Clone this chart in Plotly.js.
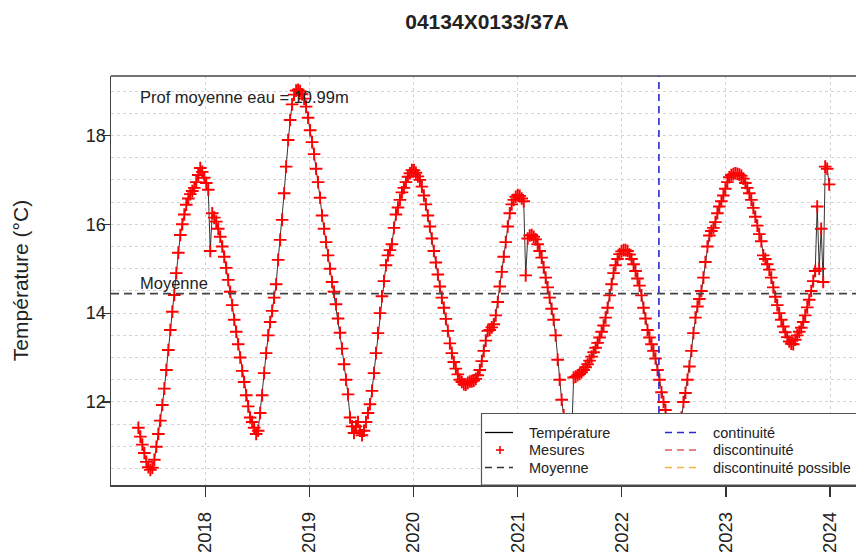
<!DOCTYPE html>
<html><head><meta charset="utf-8">
<script src="https://cdn.plot.ly/plotly-3.0.1.min.js"></script>
<style>html,body{margin:0;padding:0;background:#fff;overflow:hidden}</style>
</head><body><div id="chart" style="width:856px;height:560px"></div>
<script>
// ---- data ----
const stationTitle = '04134X0133/37A';
const profText = 'Prof moyenne eau = 10.99m';
const yTitle = 'Température (°C)';
const startDate = '2017-05-12';   // first measurement, then weekly
const stepDays = 7;
const t2017 = [11.42, 11.22, 11.04, 10.85, 10.65, 10.53, 10.47, 10.52, 10.70, 10.99,
  11.28, 11.58, 11.93, 12.30, 12.72, 13.17, 13.62, 14.03, 14.41, 14.90,
  15.36, 15.76, 16.00, 16.22, 16.44, 16.58, 16.68, 16.75, 16.82, 16.95,
  17.11, 17.27, 17.18, 17.05];
const t2018 = [16.93, 16.78, 15.40, 16.25, 16.15, 16.06, 15.90, 15.72, 15.50, 15.27,
  15.02, 14.75, 14.48, 14.18, 13.85, 13.58, 13.30, 13.00, 12.70, 12.45,
  12.15, 11.90, 11.65, 11.55, 11.42, 11.28, 11.35, 11.75, 12.15, 12.65,
  13.10, 13.50, 13.80, 14.05, 14.35, 14.65, 15.20, 15.65, 16.10, 16.70,
  17.30, 17.90, 18.35, 18.70, 18.92, 19.01, 19.03, 19.00, 18.93, 18.83,
  18.65, 18.40];
const t2019 = [18.12, 17.85, 17.58, 17.25, 16.95, 16.60, 16.20, 15.90, 15.60, 15.30,
  15.00, 14.70, 14.48, 14.20, 13.88, 13.56, 13.20, 12.85, 12.50, 12.17,
  11.65, 11.45, 11.30, 11.45, 11.55, 11.35, 11.25, 11.35, 11.55, 11.75,
  11.95, 12.25, 12.65, 13.10, 13.55, 14.00, 14.38, 14.72, 15.08, 15.30,
  15.42, 15.55, 15.92, 16.22, 16.38, 16.55, 16.72, 16.82, 16.95, 17.07,
  17.15, 17.22];
const t2020 = [17.22, 17.16, 17.08, 17.00, 16.85, 16.65, 16.45, 16.20, 15.95, 15.68,
  15.40, 15.14, 14.87, 14.60, 14.35, 14.12, 13.87, 13.60, 13.32, 13.10,
  12.90, 12.75, 12.62, 12.50, 12.45, 12.40, 12.39, 12.43, 12.46, 12.46,
  12.48, 12.52, 12.60, 12.72, 12.92, 13.15, 13.38, 13.60, 13.62, 13.68,
  13.75, 13.95, 14.25, 14.60, 14.93, 15.27, 15.60, 15.95, 16.25, 16.45,
  16.55, 16.62];
const t2021 = [16.66, 16.64, 16.58, 16.52, 14.85, 15.68, 15.75, 15.76, 15.72, 15.66,
  15.55, 15.40, 15.25, 15.03, 14.80, 14.58, 14.35, 14.10, 13.85, 13.50,
  12.95, 12.50, 12.05, 11.70, 11.35, 11.10, 11.05, 11.20, 12.55, 12.57,
  12.60, 12.63, 12.67, 12.72, 12.78, 12.85, 12.93, 13.02, 13.12, 13.22,
  13.33, 13.45, 13.58, 13.72, 13.90, 14.12, 14.40, 14.65, 14.90, 15.08,
  15.22, 15.33, 15.39];
const t2022 = [15.42, 15.42, 15.40, 15.32, 15.22, 15.10, 14.95, 14.78, 14.62, 14.40,
  14.12, 13.88, 13.62, 13.45, 13.30, 13.15, 12.98, 12.72, 12.50, 12.22,
  12.00, 11.82, 11.60, 11.30, 11.10, 10.95, 10.95, 11.10, 11.35, 11.65,
  12.00, 12.20, 12.50, 12.80, 13.15, 13.55, 13.90, 14.15, 14.32, 14.50,
  14.80, 15.15, 15.50, 15.75, 15.85, 15.92, 16.05, 16.25, 16.40, 16.52,
  16.65, 16.80];
const t2023 = [16.95, 17.06, 17.11, 17.13, 17.15, 17.14, 17.12, 17.09, 17.03, 16.93,
  16.82, 16.70, 16.55, 16.37, 16.17, 15.97, 15.78, 15.62, 15.30, 15.22,
  15.10, 14.98, 14.80, 14.58, 14.37, 14.18, 14.00, 13.85, 13.70, 13.57,
  13.46, 13.36, 13.31, 13.30, 13.40, 13.50, 13.58, 13.67, 13.80, 13.95,
  14.13, 14.30, 14.50, 14.72, 14.95, 16.40, 15.00, 15.90, 14.70, 17.30,
  17.25, 16.90];
const meanTemp = 14.44;
const continuityDate = '2022-05-11';
const xTickYears = ['2018', '2019', '2020', '2021', '2022', '2023', '2024'];
const yTickVals = [12, 14, 16, 18];
const legendLabels = ['Température', 'Mesures', 'Moyenne', 'continuité', 'discontinuité', 'discontinuité possible'];

// ---- build ----
const temps = [].concat(t2017, t2018, t2019, t2020, t2021, t2022, t2023);
const t0 = Date.parse(startDate + 'T00:00:00Z');
const dates = temps.map((_, i) => new Date(t0 + i * stepDays * 86400000).toISOString().slice(0, 10));

const FONT = 'Liberation Sans, Arial, Helvetica, sans-serif';
const L = 111, R = 856, T = 76, B = 485;
const px = x => (x - L) / (R - L);
const py = y => (B - y) / (B - T);

const traces = [
  {type: 'scatter', mode: 'lines', x: dates, y: temps, name: 'Température',
   line: {color: '#000', width: 0.8}, hoverinfo: 'skip', showlegend: false},
  {type: 'scatter', mode: 'markers', x: dates, y: temps, name: 'Mesures',
   marker: {symbol: 'cross-thin', size: 9, color: '#ff0000', line: {color: '#ff0000', width: 1.9}},
   showlegend: false}
];

const shapes = [
  // top border of the box
  {type: 'line', xref: 'paper', yref: 'paper', x0: 0, x1: 1.02, y0: 1, y1: 1, line: {color: '#444', width: 1.5}},
  // mean line
  {type: 'line', xref: 'paper', yref: 'y', x0: 0, x1: 1, y0: meanTemp, y1: meanTemp,
   line: {color: '#444', width: 1.6, dash: '8px,5px'}},
  // continuity
  {type: 'line', xref: 'x', yref: 'paper', x0: continuityDate, x1: continuityDate, y0: 0, y1: 1,
   line: {color: '#2a2ad0', width: 1.6, dash: '7px,5px'}},
  // legend box
  {type: 'rect', xref: 'paper', yref: 'paper', x0: px(481.5), x1: 1.02, y0: 0, y1: py(413.5),
   fillcolor: '#fff', line: {color: '#555', width: 1.2}}
];
const annotations = [
  {xref: 'paper', yref: 'paper', x: px(138), y: py(97), xanchor: 'left', yanchor: 'middle',
   text: profText, showarrow: false, font: {size: 16.5, color: '#222', family: FONT}},
  {xref: 'paper', yref: 'y', x: px(138), y: meanTemp, xanchor: 'left', yanchor: 'bottom', yshift: 0,
   text: 'Moyenne', showarrow: false, font: {size: 16.5, color: '#222', family: FONT}}
];
// manual legend (two columns)
const rows = [432.5, 450, 467.5];
const col1 = {x0: 485, x1: 513, tx: 526.5};
const col2 = {x0: 665, x1: 698, tx: 710.5};
shapes.push({type: 'line', xref: 'paper', yref: 'paper', x0: px(col1.x0), x1: px(col1.x1), y0: py(rows[0]), y1: py(rows[0]), line: {color: '#000', width: 1.3}});
shapes.push({type: 'line', xref: 'paper', yref: 'paper', x0: px(496), x1: px(504), y0: py(rows[1]), y1: py(rows[1]), line: {color: '#ff0000', width: 1.6}});
shapes.push({type: 'line', xref: 'paper', yref: 'paper', x0: px(500), x1: px(500), y0: py(rows[1] - 4), y1: py(rows[1] + 4), line: {color: '#ff0000', width: 1.6}});
shapes.push({type: 'line', xref: 'paper', yref: 'paper', x0: px(col1.x0), x1: px(col1.x1), y0: py(rows[2]), y1: py(rows[2]), line: {color: '#333', width: 1.3, dash: '7px,5px'}});
const col2Colors = ['#2a2ad0', '#e35a5a', '#f2b640'];
col2Colors.forEach((c, i) => shapes.push({type: 'line', xref: 'paper', yref: 'paper', x0: px(col2.x0), x1: px(col2.x1), y0: py(rows[i]), y1: py(rows[i]), line: {color: c, width: 1.3, dash: '7px,5px'}}));
legendLabels.forEach((lab, i) => {
  const col = i < 3 ? col1 : col2;
  annotations.push({xref: 'paper', yref: 'paper', x: px(col.tx), y: py(rows[i % 3]), xanchor: 'left', yanchor: 'middle',
    text: lab, showarrow: false, font: {size: 14.5, color: '#222', family: FONT}});
});

const gridStyle = {showgrid: true, gridcolor: '#d4d4d4', gridwidth: 1, griddash: '3px,3px'};
const layout = {
  width: 856, height: 560,
  margin: {l: L, r: 0, t: T, b: 560 - B, pad: 0},
  paper_bgcolor: '#fff', plot_bgcolor: '#fff',
  font: {family: FONT, color: '#222'},
  showlegend: false,
  title: {text: '<b>' + stationTitle + '</b>', font: {size: 21, family: FONT, color: '#222'},
          xref: 'container', x: 487 / 856, xanchor: 'center', yref: 'container', y: 1 - 22 / 560, yanchor: 'middle'},
  xaxis: Object.assign({
    type: 'date', range: ['2017-02-05', '2024-04-01'],
    tickmode: 'array', tickvals: xTickYears.map(y => y + '-01-01'), ticktext: xTickYears,
    tickangle: -90, ticks: 'outside', ticklen: 10, tickwidth: 1.2, tickcolor: '#333',
    tickfont: {size: 18.5, family: FONT, color: '#222'}, ticklabelstandoff: 8,
    showline: true, linecolor: '#444', linewidth: 1.5, zeroline: false
  }, gridStyle),
  yaxis: Object.assign({
    range: [10.13, 19.34],
    tickmode: 'array', tickvals: yTickVals, ticktext: yTickVals.map(String),
    ticks: 'outside', ticklen: 8, tickwidth: 1.2, tickcolor: '#333',
    tickfont: {size: 18, family: FONT, color: '#222'}, ticklabelstandoff: -8,
    showline: true, linecolor: '#444', linewidth: 1.5, zeroline: false,
    title: {text: yTitle, font: {size: 21, family: FONT, color: '#222'}, standoff: 51},
    minor: Object.assign({tickmode: 'linear', tick0: 0, dtick: 0.5, ticks: ''}, gridStyle)
  }, gridStyle),
  shapes: shapes,
  annotations: annotations
};
Plotly.newPlot('chart', traces, layout, {displayModeBar: false, staticPlot: true});
</script>
</body></html>
